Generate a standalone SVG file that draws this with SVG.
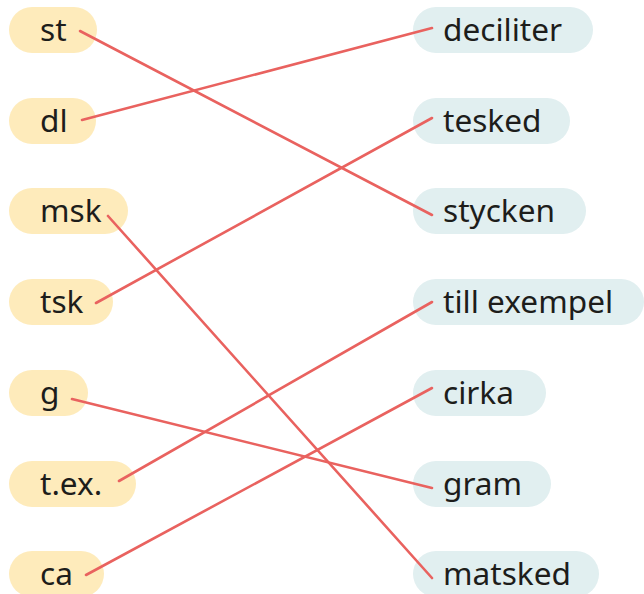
<svg xmlns="http://www.w3.org/2000/svg" width="644" height="594" viewBox="0 0 644 594">
<style>
.l rect{fill:#feebbb}
.r rect{fill:#e1eff0}
text{font-family:"Noto Sans","Open Sans",sans-serif;font-size:31.6px;fill:#1d1d1b}
#connectors line{stroke:#e9625f;stroke-width:2.6;stroke-linecap:round}
</style>
<rect width="644" height="594" fill="#ffffff"/>
<g id="left">
<g id="n-st" class="l"><rect x="9" y="7" width="88" height="46" rx="23"/><text x="40" y="41">st</text></g>
<g id="n-dl" class="l"><rect x="9" y="98" width="87" height="46" rx="23"/><text x="40" y="132">dl</text></g>
<g id="n-msk" class="l"><rect x="9" y="188" width="119" height="46" rx="23"/><text x="40" y="222">msk</text></g>
<g id="n-tsk" class="l"><rect x="9" y="279" width="104" height="46" rx="23"/><text x="40" y="313">tsk</text></g>
<g id="n-g" class="l"><rect x="9" y="370" width="79" height="46" rx="23"/><text x="40" y="404">g</text></g>
<g id="n-tex" class="l"><rect x="9" y="461" width="127" height="46" rx="23"/><text x="40" y="495">t.ex.</text></g>
<g id="n-ca" class="l"><rect x="9" y="551" width="95" height="46" rx="23"/><text x="40" y="585">ca</text></g>
</g>
<g id="right">
<g id="n-deciliter" class="r"><rect x="413" y="7" width="180" height="46" rx="23"/><text x="443" y="41">deciliter</text></g>
<g id="n-tesked" class="r"><rect x="413" y="98" width="157" height="46" rx="23"/><text x="443" y="132">tesked</text></g>
<g id="n-stycken" class="r"><rect x="413" y="188" width="173" height="46" rx="23"/><text x="443" y="222">stycken</text></g>
<g id="n-tillexempel" class="r"><rect x="413" y="279" width="231" height="46" rx="23"/><text x="443" y="313">till exempel</text></g>
<g id="n-cirka" class="r"><rect x="413" y="370" width="133" height="46" rx="23"/><text x="443" y="404">cirka</text></g>
<g id="n-gram" class="r"><rect x="413" y="461" width="138" height="46" rx="23"/><text x="443" y="495">gram</text></g>
<g id="n-matsked" class="r"><rect x="413" y="551" width="186" height="46" rx="23"/><text x="443" y="585">matsked</text></g>
</g>
<g id="connectors">
<line x1="80" y1="31" x2="432" y2="215"/>
<line x1="82" y1="120" x2="432" y2="28"/>
<line x1="108" y1="216" x2="432" y2="578"/>
<line x1="96" y1="303" x2="432" y2="118"/>
<line x1="72" y1="399" x2="432" y2="488"/>
<line x1="119" y1="481" x2="432" y2="302"/>
<line x1="86" y1="575" x2="432" y2="388"/>
</g>
</svg>
